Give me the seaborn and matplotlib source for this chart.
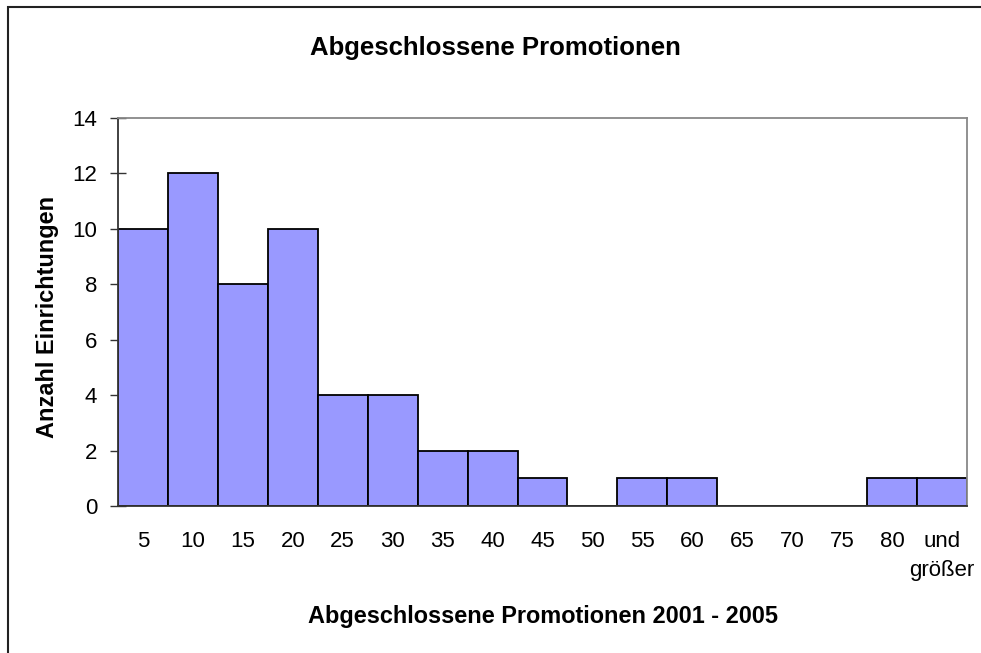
import matplotlib
matplotlib.use("Agg")
import matplotlib.pyplot as plt
import seaborn as sns
import pandas as pd
from matplotlib.patches import Rectangle

# Daten
kategorien = ["5", "10", "15", "20", "25", "30", "35", "40", "45", "50",
              "55", "60", "65", "70", "75", "80", "und\ngrößer"]
anzahl = [10, 12, 8, 10, 4, 4, 2, 2, 1, 0, 1, 1, 0, 0, 0, 1, 1]
y_ticks = [0, 2, 4, 6, 8, 10, 12, 14]

df = pd.DataFrame({"Klasse": kategorien, "Anzahl": anzahl})

sns.set_style("white")
plt.rcParams["font.family"] = ["Liberation Sans", "DejaVu Sans"]
plt.rcParams["text.color"] = "black"
plt.rcParams["xtick.color"] = "black"
plt.rcParams["ytick.color"] = "black"

fig = plt.figure(figsize=(9.81, 6.53), dpi=100)
ax = fig.add_axes([0.1203, 0.2251, 0.8654, 0.5942])

sns.barplot(data=df, x="Klasse", y="Anzahl", color="#9999FF", width=1.0,
            edgecolor="black", linewidth=1.3, saturation=1, ax=ax)
ax.set_xlim(-0.5, len(kategorien) - 0.5)
ax.set_ylim(0, 14)
ax.set_xlabel("")
ax.set_ylabel("")

# Ticks an den Balkenkanten, Beschriftung in der Mitte
ax.set_xticks([i - 0.5 for i in range(len(kategorien) + 1)])
ax.set_xticklabels([])
ax.set_xticks(range(len(kategorien)), minor=True)
ax.set_xticklabels(kategorien, minor=True, fontsize=16, linespacing=1.5)
ax.tick_params(axis="x", which="major", direction="inout", length=12, width=1, color="#333333")
ax.tick_params(axis="x", which="minor", length=0, pad=18)

ax.set_yticks(y_ticks)
ax.set_yticklabels([str(v) for v in y_ticks], fontsize=16)
ax.tick_params(axis="y", direction="inout", length=12, width=1, color="#333333", pad=9, left=True)

for side in ["top", "right"]:
    ax.spines[side].set_color("#888888")
    ax.spines[side].set_linewidth(1.3)
for side in ["left", "bottom"]:
    ax.spines[side].set_color("#333333")
    ax.spines[side].set_linewidth(1.3)

fig.text(0.5046, 1 - 55 / 653, "Abgeschlossene Promotionen", ha="center", va="baseline",
         fontsize=18.5, fontweight="bold")
fig.text(0.554, 1 - 623 / 653, "Abgeschlossene Promotionen 2001 - 2005", ha="center",
         va="baseline", fontsize=16.9, fontweight="bold")
fig.text(0.0484, 1 - 317 / 653, "Anzahl Einrichtungen", ha="center", va="center",
         rotation=90, fontsize=16.9, fontweight="bold")

# Rahmen des Diagrammbereichs
fig.patches.append(Rectangle((8 / 981, -0.05), 1.0, 1 - 7 / 653 + 0.05,
                             transform=fig.transFigure, fill=False,
                             edgecolor="#222222", linewidth=1.5))

fig.savefig("out.png", dpi=100)
